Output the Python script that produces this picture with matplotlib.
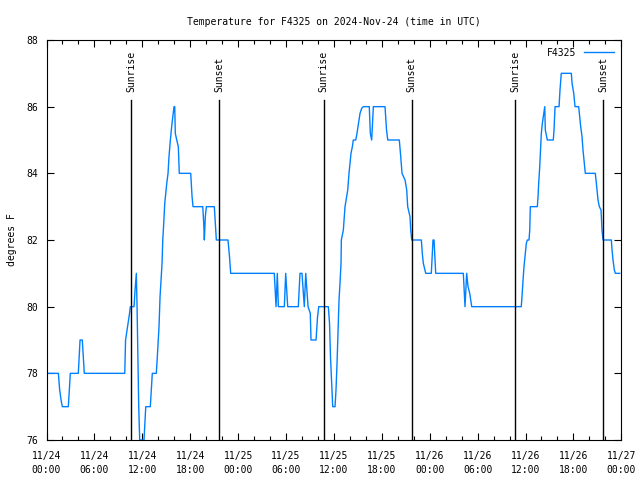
import matplotlib
matplotlib.use('Agg')
import matplotlib.pyplot as plt
import matplotlib.transforms as mtransforms
from matplotlib.ticker import MultipleLocator

# hours since 2024-11-24 00:00 UTC and temperature (F)
hours = [0.00, 1.48, 1.65, 1.82, 1.98, 2.73, 2.91, 2.98, 3.98, 4.11, 4.20, 4.48, 4.61, 4.73,
         9.80, 9.90, 10.40, 10.50, 10.96, 11.09, 11.25, 11.34, 11.55, 11.67, 12.21, 12.43,
         13.00, 13.25, 13.75, 13.88, 14.09, 14.22, 14.34, 14.47, 14.56, 14.68, 14.81, 15.06,
         15.22, 15.34, 15.51, 15.72, 15.97, 16.06, 16.13, 16.31, 16.51, 16.63, 18.06, 18.23,
         18.35, 19.57, 19.69, 19.77, 19.89, 20.02, 21.02, 21.14, 21.27, 22.73, 22.92, 23.07,
         28.53, 28.75, 28.91, 29.04, 29.79, 29.96, 30.21, 31.54, 31.75, 32.00, 32.29, 32.47,
         32.76, 33.04, 33.13, 33.76, 33.95, 34.10, 35.30, 35.45, 35.57, 35.72, 35.85, 36.14,
         36.26, 36.39, 36.51, 36.64, 36.76, 36.89, 36.93, 37.18, 37.30, 37.39, 37.60, 37.73,
         37.89, 38.02, 38.14, 38.31, 38.43, 38.73, 38.89, 39.02, 39.14, 39.27, 39.48, 39.68,
         40.43, 40.56, 40.73, 40.94, 42.40, 42.59, 42.74, 44.19, 44.37, 44.53, 44.91, 45.12,
         45.24, 45.53, 45.62, 45.75, 46.95, 47.07, 47.20, 47.50, 48.20, 48.41, 48.54, 48.75,
         52.21, 52.42, 52.63, 52.80, 53.01, 53.26, 59.47, 59.56, 59.69, 59.81, 59.98, 60.10,
         60.23, 60.44, 60.53, 60.60, 61.48, 61.57, 61.65, 61.78, 61.90, 61.98, 62.11, 62.23,
         62.41, 62.48, 62.73, 63.48, 63.57, 63.70, 64.20, 64.32, 64.48, 65.74, 65.83, 66.04,
         66.20, 66.66, 66.74, 66.91, 67.08, 67.20, 67.33, 67.49, 68.74, 68.83, 68.96, 69.08,
         69.25, 69.46, 69.58, 69.71, 70.75, 70.84, 70.96, 71.13, 71.25, 71.80]
temps = [78, 78, 77.5, 77.2, 77, 77, 77.7, 78, 78, 78.6, 79, 79, 78.5, 78,
         78, 79, 79.8, 80, 80, 80.5, 81, 80, 77, 76, 76, 77,
         77, 78, 78, 78.5, 79.4, 80.3, 80.8, 81.3, 82, 82.5, 83.1, 83.7,
         84, 84.5, 85, 85.5, 86, 86, 85.2, 85, 84.8, 84, 84, 83.3,
         83, 83, 82.5, 82, 82.7, 83, 83, 82.5, 82, 82, 81.5, 81,
         81, 80, 81, 80, 80, 81, 80, 80, 81, 81, 80, 81,
         80, 79.8, 79, 79, 79.7, 80, 80, 79.5, 78.5, 77.7, 77, 77,
         77.5, 78.3, 79.2, 80.2, 80.7, 81.3, 82, 82.3, 82.7, 83, 83.3, 83.5,
         84, 84.3, 84.6, 84.8, 85, 85, 85.2, 85.4, 85.6, 85.8, 85.95, 86,
         86, 85.2, 85, 86, 86, 85.3, 85, 85, 84.5, 84, 83.8, 83.5,
         83, 82.7, 82.3, 82, 82, 81.6, 81.3, 81, 81, 82, 82, 81,
         81, 80, 81, 80.6, 80.4, 80, 80, 80.3, 80.8, 81.2, 81.6, 81.9,
         82, 82, 82.3, 83, 83, 83.3, 83.7, 84.2, 84.8, 85.2, 85.5, 85.7,
         86, 85.3, 85, 85, 85.3, 86, 86, 86.5, 87, 87, 86.7, 86.4,
         86, 86, 85.8, 85.4, 85.1, 84.7, 84.4, 84, 84, 83.8, 83.5, 83.2,
         83, 82.9, 82.3, 82, 82, 81.7, 81.4, 81.1, 81, 81]

sun_hours = [10.62, 21.65, 34.72, 45.75, 58.72, 69.75]
sun_names = ['Sunrise', 'Sunset', 'Sunrise', 'Sunset', 'Sunrise', 'Sunset']

tick_hours = [0, 6, 12, 18, 24, 30, 36, 42, 48, 54, 60, 66, 72]
tick_labels = ['11/24\n00:00', '11/24\n06:00', '11/24\n12:00', '11/24\n18:00',
               '11/25\n00:00', '11/25\n06:00', '11/25\n12:00', '11/25\n18:00',
               '11/26\n00:00', '11/26\n06:00', '11/26\n12:00', '11/26\n18:00',
               '11/27\n00:00']

plt.rcParams['font.family'] = ['DejaVu Sans Mono']
plt.rcParams['font.size'] = 7

fig = plt.figure(figsize=(6.4, 4.8), dpi=100)
ax = fig.add_axes([0.0727, 0.0833, 0.8981, 0.8334])

ax.plot(hours, temps, color='#0080ff', lw=1.0, label='F4325')

trans = mtransforms.blended_transform_factory(ax.transData, ax.transAxes)
for h, name in zip(sun_hours, sun_names):
    ax.plot([h, h], [0, 0.85], color='black', lw=1.0, transform=trans)
    ax.text(h, 0.87, name, rotation=90, ha='center', va='bottom', transform=trans)

ax.set_xlim(0, 72)
ax.set_ylim(76, 88)
ax.set_xticks(tick_hours)
ax.set_xticklabels(tick_labels, linespacing=1.5)
ax.xaxis.set_minor_locator(MultipleLocator(2))
ax.set_yticks(range(76, 89, 2))
ax.tick_params(which='both', direction='in', top=True, right=True, width=0.8)
ax.tick_params(which='major', length=5)
ax.tick_params(axis='x', which='major', pad=8)
ax.tick_params(axis='y', which='major', pad=6)
ax.tick_params(which='minor', length=3)
for s in ax.spines.values():
    s.set_linewidth(0.8)

ax.set_ylabel('degrees F', labelpad=7)
ax.set_title('Temperature for F4325 on 2024-Nov-24 (time in UTC)', fontsize=7, pad=11)

ax.legend(loc='upper right', frameon=False, markerfirst=False, handlelength=3.0,
          borderaxespad=0.4, fontsize=7)

fig.savefig('out.png', dpi=100)
